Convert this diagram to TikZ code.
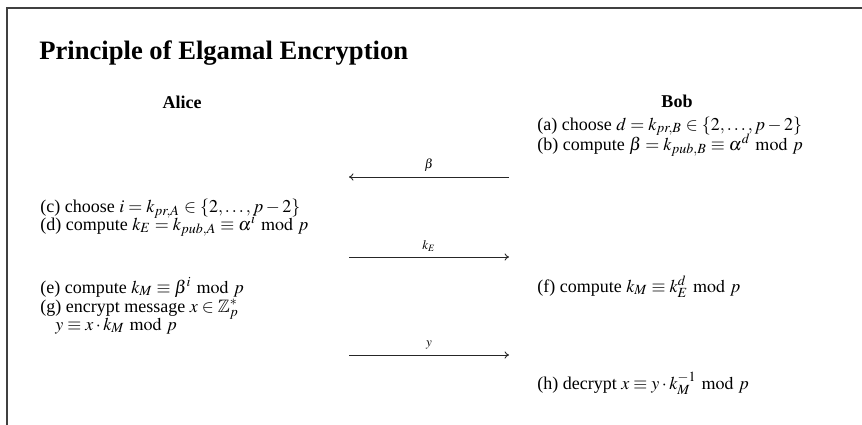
\documentclass[tikz,border=0pt]{standalone}
\usepackage{amssymb}
\usepackage{mathptmx}
\usepackage[no-math]{fontspec}
\setmainfont{Liberation Serif}
\usetikzlibrary{arrows.meta}
\begin{document}
\begin{tikzpicture}[x=0.5pt,y=-0.5pt,
  txt/.style={anchor=base west,inner sep=0pt,font=\fontsize{9}{11}\selectfont},
  head/.style={anchor=base,inner sep=0pt,font=\fontsize{9}{11}\selectfont\bfseries},
  lab/.style={anchor=base,inner sep=0pt,font=\fontsize{6.5}{8}\selectfont},
  msg/.style={line width=0.45pt,draw=black!85,-{To[length=2.2pt,width=3.6pt]}},
  frame/.style={line width=1pt,draw=black!75}]
\useasboundingbox (0,0) rectangle (862,424);
\draw[frame] (7,426) -- (7,8) -- (864,8);
\node[anchor=base west,inner sep=0pt,font=\fontsize{13.3}{16}\selectfont\bfseries] (title) at (39,59) {Principle of Elgamal Encryption};
\node[head] (alice) at (182,108) {Alice};
\node[head] (bob) at (677,107) {Bob};
\node[txt] (a) at (537,130) {(a) choose $d=k_{pr,B}\in\{2,\ldots,p-2\}$};
\node[txt] (b) at (537,150) {(b) compute $\beta=k_{pub,B}\equiv\alpha^{d}\bmod p$};
\coordinate (b1) at (509,177);
\coordinate (b2) at (349,177);
\draw[msg] (b1) -- node[lab,above=2.5pt] (lbeta) {$\beta$} (b2);
\node[txt] (c) at (40,212) {(c) choose $i=k_{pr,A}\in\{2,\ldots,p-2\}$};
\node[txt] (d) at (40,230) {(d) compute $k_E=k_{pub,A}\equiv\alpha^{i}\bmod p$};
\coordinate (k1) at (349,257);
\coordinate (k2) at (509,257);
\draw[msg] (k1) -- node[lab,above=2.5pt] (lke) {$k_E$} (k2);
\node[txt] (e) at (40,293) {(e) compute $k_M\equiv\beta^{i}\bmod p$};
\node[txt] (f) at (537,292) {(f) compute $k_M\equiv k_E^{d}\bmod p$};
\node[txt] (g) at (40,312) {(g) encrypt message $x\in\mathbb{Z}_p^{*}$};
\node[txt] (g2) at (55,330) {$y\equiv x\cdot k_M\bmod p$};
\coordinate (y1) at (349,355);
\coordinate (y2) at (509,355);
\draw[msg] (y1) -- node[lab,above=2.5pt] (ly) {$y$} (y2);
\node[txt] (h) at (537,389) {(h) decrypt $x\equiv y\cdot k_M^{-1}\bmod p$};
\end{tikzpicture}
\end{document}
